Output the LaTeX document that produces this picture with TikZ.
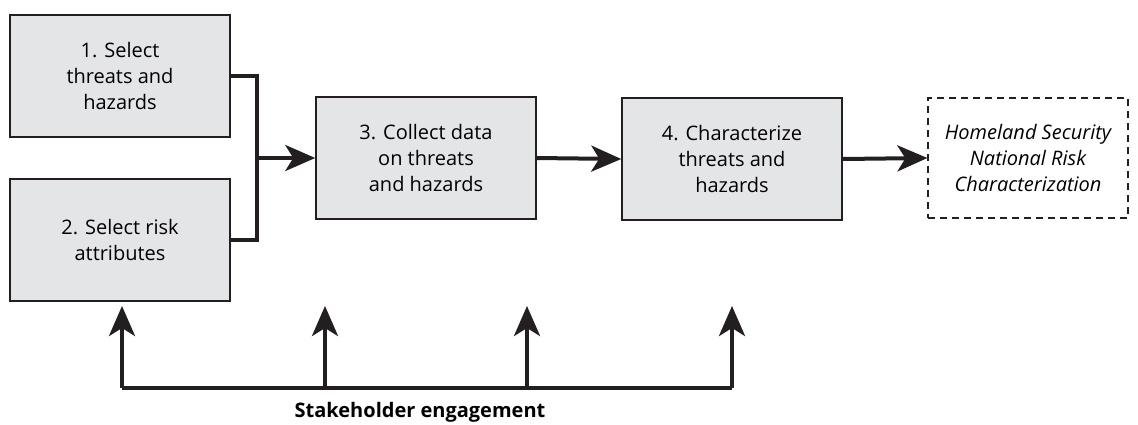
\documentclass[tikz,border=0pt]{standalone}
\usepackage{fontspec}
\setmainfont{Open Sans}
\usepackage{tikz}
\usetikzlibrary{arrows.meta}

\definecolor{boxgray}{RGB}{228,229,231}
\definecolor{ink}{RGB}{35,31,32}

\begin{document}
\begin{tikzpicture}[x=0.5pt, y=-0.5pt, font=\fontsize{10}{13}\selectfont,
  stepbox/.style = {draw=ink, line width=0.75pt, fill=boxgray, align=center, minimum width=110pt, minimum height=61pt, inner sep=0pt},
  outbox/.style = {draw=ink, line width=0.6pt, dash pattern=on 3.5pt off 2.5pt, align=center, minimum width=100pt, minimum height=60pt, inner sep=0pt, font=\fontsize{10}{13}\selectfont\itshape},
  flow/.style = {draw=ink, line width=2pt},
  arr/.style = {flow, -{Stealth[length=15pt, width=13pt, inset=4pt]}}]
\useasboundingbox (0,0) rectangle (1138,424);

\node[stepbox] (1) at (120,76) {1. Select\\threats and\\hazards};
\node[stepbox] (2) at (120,240) {2. Select risk\\attributes};
\node[stepbox] (3) at (426,158) {3. Collect data\\on threats\\and hazards};
\node[stepbox] (4) at (732,159) {4. Characterize\\threats and\\hazards};
\node[outbox] (5) at (1028,158) {Homeland Security\\National Risk\\Characterization};

\coordinate (j) at (257,158);
\draw[flow] (1.east) -| (j) |- (2.east);
\draw[arr] (j) -- (3.west);
\draw[arr] (3.east) -- (4.west);
\draw[arr] (4.east) -- (5.west);

\coordinate (s1) at (122,388);
\coordinate (s2) at (325,388);
\coordinate (s3) at (527,388);
\coordinate (s4) at (732,388);
\draw[flow, line width=1.8pt] (s1) -- (s4);
\foreach \i in {1,...,4}
  \draw[arr] (s\i) -- ++(0,-82);

\node[font=\fontsize{10}{13}\selectfont\bfseries] (label) at (420,412) {Stakeholder engagement};
\end{tikzpicture}
\end{document}
